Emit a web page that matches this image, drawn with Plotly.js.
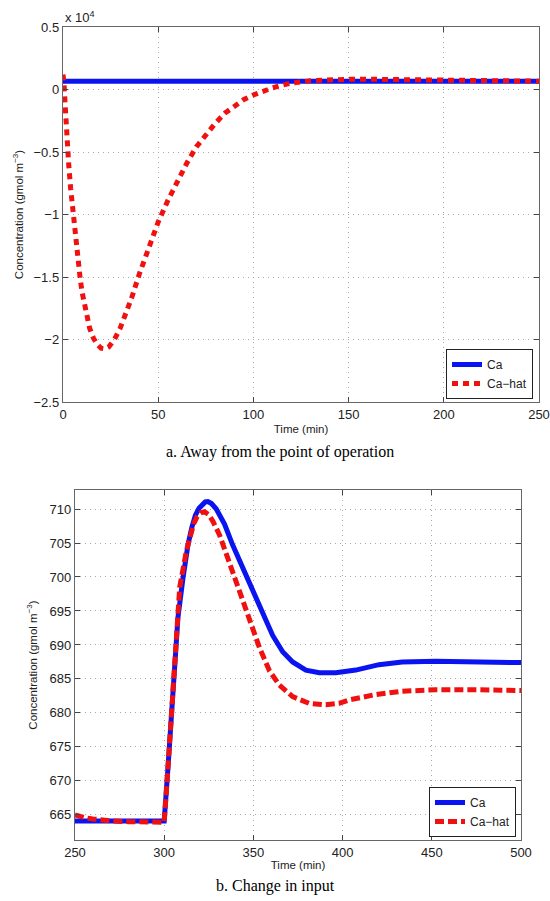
<!DOCTYPE html>
<html>
<head>
<meta charset="utf-8">
<script src="https://cdn.plot.ly/plotly-3.0.1.min.js"></script>
<style>
html,body{margin:0;padding:0;background:#fff;}
#chart{width:550px;height:901px;}
</style>
</head>
<body>
<div id="chart"></div>
<script>
// ---- Panel a: away from the point of operation ----
const timeA = [0, 250];
const caA = [664, 664];
const timeAhat = [0, 0.5, 1, 1.5, 2, 2.5, 3, 4, 5, 6, 7, 8, 9, 10, 12, 14, 16, 18, 20, 22, 24, 27, 30, 33, 36, 40, 45, 50, 55, 60, 65, 70, 75, 80, 85, 90, 95, 100, 105, 110, 115, 120, 130, 140, 150, 160, 170, 180, 190, 200, 220, 250];
const caAhat = [1200, 600, -900, -2600, -3800, -5000, -6000, -7900, -9500, -11000, -12600, -13900, -15100, -16200, -17900, -19100, -19900, -20400, -20700, -20750, -20600, -20000, -19100, -18000, -16700, -14800, -12600, -10600, -8900, -7300, -5900, -4600, -3600, -2700, -1900, -1300, -800, -440, -120, 130, 340, 520, 700, 790, 820, 820, 800, 760, 720, 700, 680, 664];
const tickValsA = [-25000, -20000, -15000, -10000, -5000, 0, 5000];
const tickTextA = ['\u22122.5', '\u22122', '\u22121.5', '\u22121', '\u22120.5', '0', '0.5'];

// ---- Panel b: change in input ----
const timeB = [250, 270, 290, 300, 302, 304, 305.9, 307.7, 310.5, 313.3, 315.5, 317.5, 319.5, 321.5, 323, 324.5, 326.5, 329.2, 333.8, 338.4, 344, 349.6, 355.2, 360.8, 366.4, 372, 379.4, 386.9, 396.2, 407.4, 420.4, 433.4, 452, 475, 500];
const caB = [664.1, 664.1, 664.1, 664.1, 671.5, 680.2, 689.0, 694.0, 699.8, 704.7, 707.3, 709.1, 710.1, 710.8, 711.05, 711.1, 710.8, 710.0, 707.8, 704.7, 701.3, 697.9, 694.4, 691.4, 689.0, 687.5, 686.3, 685.9, 685.9, 686.3, 687.1, 687.5, 687.6, 687.5, 687.4];
const timeBhat = [250, 255, 260, 270, 280, 290, 300, 302, 304, 306, 308.7, 312.4, 314.5, 316.5, 318.5, 320.5, 322.6, 324.8, 327.3, 331, 335.6, 340.3, 345, 349.6, 353.4, 359, 364.5, 372, 381.3, 390.6, 398, 403.6, 418.5, 433.4, 452, 475, 500];
const caBhat = [665.0, 664.6, 664.4, 664.1, 664.0, 663.9, 663.9, 671.5, 680.5, 689.0, 698.5, 703.8, 706.0, 707.8, 708.9, 709.45, 709.6, 709.2, 708.2, 706.2, 702.8, 699.3, 695.9, 692.5, 689.6, 686.2, 684.1, 682.4, 681.4, 681.2, 681.4, 681.9, 682.7, 683.2, 683.4, 683.4, 683.3];
const tickValsB = [665, 670, 675, 680, 685, 690, 695, 700, 705, 710];

const seriesNames = ['Ca', 'Ca\u2212hat'];
const blue = '#0a14f0';
const red = '#f01010';

const traces = [
  {x: timeA, y: caA, name: seriesNames[0], mode: 'lines', xaxis: 'x', yaxis: 'y',
   line: {color: blue, width: 5}, legend: 'legend'},
  {x: timeAhat, y: caAhat, name: seriesNames[1], mode: 'lines', xaxis: 'x', yaxis: 'y',
   line: {color: red, width: 5, dash: '6px,5px'}, legend: 'legend'},
  {x: timeB, y: caB, name: seriesNames[0], mode: 'lines', xaxis: 'x2', yaxis: 'y2',
   line: {color: blue, width: 5}, legend: 'legend2'},
  {x: timeBhat, y: caBhat, name: seriesNames[1], mode: 'lines', xaxis: 'x2', yaxis: 'y2',
   line: {color: red, width: 5, dash: '9px,4px'}, legend: 'legend2'}
];

const tickFont = {family: 'Liberation Sans, Arial, sans-serif', size: 13, color: '#222'};
const titleFont = {family: 'Liberation Sans, Arial, sans-serif', size: 11.5, color: '#222'};
const axisBase = {
  showline: true, linecolor: '#666', linewidth: 1.2, mirror: 'ticks',
  ticks: 'inside', ticklen: 5, tickcolor: '#444', tickwidth: 1,
  showgrid: true, gridcolor: '#a8a8a8', griddash: '1px,4px', gridwidth: 1,
  zeroline: false, tickfont: tickFont
};

const legendBase = {
  xanchor: 'right', yanchor: 'bottom',
  bgcolor: '#fff', bordercolor: '#222', borderwidth: 1,
  font: {family: 'Liberation Sans, Arial, sans-serif', size: 12, color: '#222'},
  tracegroupgap: 0, itemwidth: 30
};

const layout = {
  width: 550, height: 901,
  margin: {l: 0, r: 0, t: 0, b: 0},
  paper_bgcolor: '#fff', plot_bgcolor: '#fff',
  showlegend: true,
  xaxis: Object.assign({}, axisBase, {
    domain: [63/550, 539/550], anchor: 'y', range: [0, 250],
    tickvals: [0, 50, 100, 150, 200, 250],
    title: {text: 'Time (min)', font: titleFont, standoff: 4}
  }),
  yaxis: Object.assign({}, axisBase, {
    domain: [1 - 402/901, 1 - 27/901], anchor: 'x', range: [-25000, 5000],
    tickvals: tickValsA, ticktext: tickTextA,
    title: {text: 'Concentration (gmol m<sup>\u22123</sup>)', font: titleFont, standoff: 7}
  }),
  xaxis2: Object.assign({}, axisBase, {
    domain: [75/550, 521/550], anchor: 'y2', range: [250, 500],
    tickvals: [250, 300, 350, 400, 450, 500],
    title: {text: 'Time (min)', font: titleFont, standoff: 2}
  }),
  yaxis2: Object.assign({}, axisBase, {
    domain: [1 - 840/901, 1 - 490/901], anchor: 'x2', range: [661.3, 712.8],
    tickvals: tickValsB,
    title: {text: 'Concentration (gmol m<sup>\u22123</sup>)', font: titleFont, standoff: 9}
  }),
  legend: Object.assign({}, legendBase, {x: 533/550, y: 1 - 399/901}),
  legend2: Object.assign({}, legendBase, {x: 516/550, y: 1 - 837/901}),
  annotations: [
    {text: 'x 10<sup>4</sup>', xref: 'paper', yref: 'paper', x: 63/550, y: 1 - 17/901,
     xanchor: 'left', yanchor: 'middle', showarrow: false,
     font: {family: 'Liberation Sans, Arial, sans-serif', size: 13, color: '#222'}},
    {text: 'a. Away from the point of operation', xref: 'paper', yref: 'paper', x: 280/550, y: 1 - 452/901,
     xanchor: 'center', yanchor: 'middle', showarrow: false,
     font: {family: 'Liberation Serif, Times New Roman, serif', size: 16, color: '#000'}},
    {text: 'b. Change in input', xref: 'paper', yref: 'paper', x: 275/550, y: 1 - 886/901,
     xanchor: 'center', yanchor: 'middle', showarrow: false,
     font: {family: 'Liberation Serif, Times New Roman, serif', size: 16, color: '#000'}}
  ]
};

Plotly.newPlot('chart', traces, layout, {displayModeBar: false, staticPlot: true});
</script>
</body>
</html>
